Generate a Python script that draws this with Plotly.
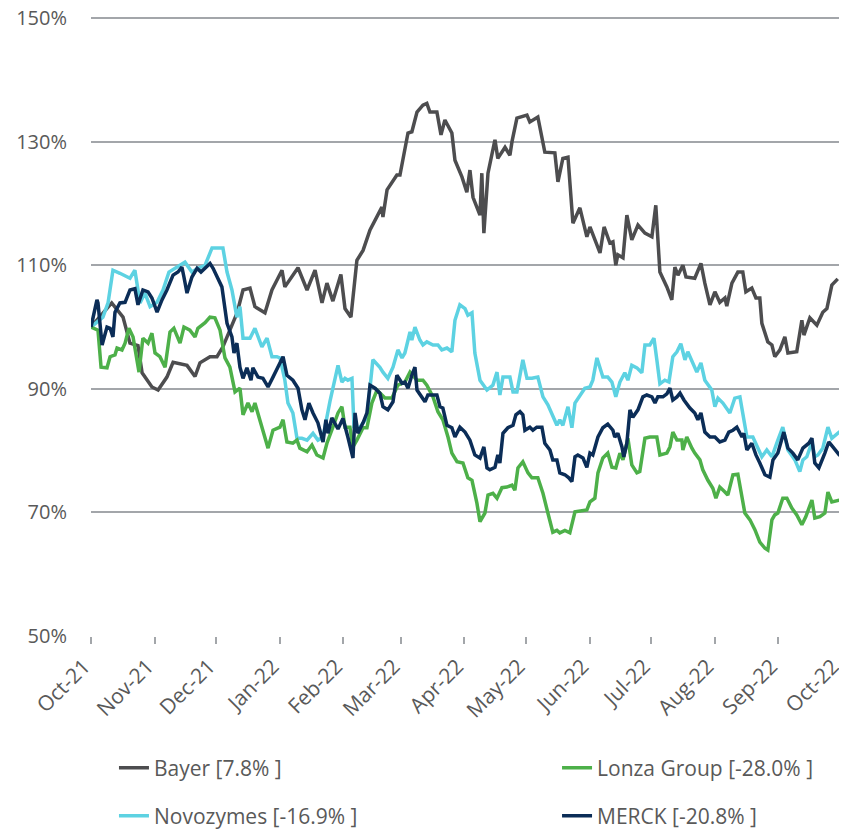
import pandas as pd
import plotly.graph_objects as go

START = "2021-10-01"

# ---- data: days since 2021-10-01 and indexed value (%) ----
bayer_days = [0, 10.1, 15.6, 19, 22.9, 24.9, 29.7, 32.7, 37, 40, 46.8, 50.7, 53.1, 58, 61.4, 64.3, 71.2, 74.1,
              77.5, 79.9, 84.8, 88.2, 93.1, 94.5, 100.9, 105.3, 109.2, 112.6, 115, 117.9, 121.8, 123.8, 126.7,
              129.6, 132.6, 136, 141.8, 142.3, 144.3, 149.1, 150.6, 154.5, 156.4, 158.9, 161.8, 163.7, 165.2,
              168.6, 170.6, 172.5, 175.9, 177.4, 180.8, 183.2, 184.7, 186.2, 189.6, 190.5, 191.5, 193.5, 196.9,
              198.3, 201.8, 204.2, 205.2, 207.6, 212.5, 213.9, 217.8, 221.2, 226.1, 227.6, 230, 232.5, 234.9,
              238.3, 241.7, 243.2, 248.1, 250.1, 252.9, 254.4, 255.8, 256.8, 259.3, 261.2, 263.6, 266.6, 270,
              273.4, 275.3, 277.3, 280.7, 283.1, 284.6, 286.1, 288.5, 290, 294.3, 297.3, 299.2, 301.7, 304.1,
              306.5, 309, 309.9, 312.4, 315.3, 317.7, 319.2, 322.1, 324.1, 326, 327, 329.9, 331.9, 333.3, 335.8,
              338.2, 339.7, 344, 346.5, 347.5, 350.4, 353.8, 356.7, 358.7, 361.1, 364]
bayer_vals = [100, 103.9, 101.6, 97.4, 97, 92.6, 90.3, 89.8, 91.9, 94.3, 93.8, 92, 94.2, 95.2, 95.2, 96.8, 102.3, 106,
              106.3, 103.3, 102.3, 106, 109.2, 106.5, 109.6, 106, 109.2, 103.9, 107.1, 104.2, 108.5, 103, 101.6,
              110.8, 112.4, 115.7, 119.4, 117.8, 122.2, 124.6, 124.6, 131.4, 131.6, 134.8, 135.9, 136.2, 134.8,
              134.8, 131.1, 133.5, 131.4, 127, 124.3, 121.8, 125.4, 121, 118.1, 124.9, 115.2, 124.9, 130.3,
              127.3, 129.1, 127.8, 130, 133.8, 134.3, 133.2, 134, 128.3, 128.2, 123.5, 127.3, 127.5, 116.8,
              119.3, 114.6, 116.2, 112, 116.2, 113.6, 113.8, 110, 111.7, 111.2, 118.1, 114.1, 116.5, 115.2,
              114.6, 119.7, 108.9, 106.5, 104.4, 109.7, 108.4, 110, 108.1, 107.9, 110.3, 107.1, 103.6, 105.7,
              104, 104.7, 103.4, 107.1, 108.9, 108.9, 105.7, 106.3, 104.7, 104.7, 100.6, 97.6, 97.1, 95.2, 96.3,
              98.4, 95.8, 96, 101.1, 98.7, 101.5, 100.3, 102.4, 103, 106.8, 107.8]

lonza_days = [0, 3.4, 4.9, 7.8, 9.3, 11.7, 12.7, 15.1, 16.6, 18.5, 20.5, 22.4, 23.4, 25.3, 27.8, 29.7, 31.2, 33.6,
              36.1, 38.5, 40.4, 43.4, 45.3, 48.2, 50.7, 52.1, 55.6, 58, 60.4, 62.9, 65.3, 67.7, 70.2, 72.6, 74.1,
              76.5, 78.5, 79.9, 83.3, 86.3, 88.7, 92.1, 93.6, 95.5, 98.4, 100.4, 101.8, 105.3, 107.7, 110.1,
              113.1, 115, 117.9, 120.4, 122.3, 123.8, 126.2, 127.7, 129.6, 132.6, 134.5, 136.9, 139.4, 143.3,
              146.7, 149.6, 153, 155.5, 158.9, 161.8, 163.7, 166.7, 169.1, 171.5, 174, 175.9, 178.4, 181.3,
              183.7, 185.7, 188.1, 189.6, 192, 193.5, 195.9, 197.9, 200.3, 202.7, 205.2, 206.6, 208.1, 210.5,
              213, 214.9, 217.8, 220.3, 222.7, 225.1, 227.1, 228.5, 231, 233.4, 235.9, 239.3, 241.7, 243.2,
              245.6, 247.1, 249.5, 251.9, 253.9, 255.8, 257.8, 259.3, 261.7, 263.6, 266.1, 267.5, 270, 272.4,
              275.8, 277.3, 280.7, 282.2, 283.6, 285.6, 288, 288.5, 290.4, 292.9, 294.3, 296.8, 298.2, 300.7,
              303.1, 304.6, 306.5, 309, 310.4, 312.9, 315.3, 317.3, 318.7, 321.2, 323.6, 326, 328.5, 329.9,
              331.9, 333.3, 334.8, 337.2, 339.2, 341.6, 344, 346.5, 348.4, 351.4, 352.8, 355.3, 357.7, 359.2,
              361.1, 365]
lonza_vals = [100, 99.5, 93.5, 93.4, 95.2, 95.5, 96.6, 96.3, 97.4, 99.8, 98.4, 94.2, 92.7, 98.2, 97.4, 99, 95.8, 95.2,
              93.5, 99.2, 99.8, 97.4, 100, 99.5, 98.4, 99.8, 100.7, 101.6, 101.5, 99.5, 95, 93.5, 89.5, 90.1, 85.8,
              87.7, 86.3, 87.7, 83.8, 80.4, 83.3, 83.8, 85, 81.4, 81.2, 81.7, 80.4, 79.8, 80.9, 79.3,
              78.8, 81.2, 83.8, 86.1, 87.1, 83.8, 83.8, 80.6, 81.7, 83.7, 83.7, 87.7, 89.8, 88.5,
              88.5, 90.6, 91.1, 92.7, 91.4, 91.4, 90.6, 88.7, 86.3, 85, 82.2, 79.6, 78.2, 78,
              75.6, 75.2, 71.5, 68.5, 69.9, 72.8, 73.1, 72.3, 74, 74.1, 74.4, 73.6, 77.2, 78.2,
              76.4, 75.6, 75.6, 73.1, 69.9, 66.8, 67.1, 66.7, 67.1, 66.7, 70.1, 70.2, 70.4, 71.7,
              72.3, 76.4, 78.8, 79.6, 77.3, 77.2, 79.6, 78.5, 82, 77.7, 76.4, 76.6, 82, 82.2,
              82.2, 79.3, 79.6, 80.6, 83, 81.7, 81.7, 80.1, 82.2, 80.4, 79.6, 78.5, 76.9, 75.2,
              73.9, 72.3, 74.1, 73.3, 72.8, 76.1, 76.2, 72.5, 69.9, 68.8, 67.2, 65.2, 64.2, 63.9,
              68.8, 69.6, 69.9, 72.3, 72.3, 70.7, 69.6, 68, 69.3, 72, 69.1, 69.3, 69.9, 73.3,
              71.7, 72]

novo_days = [0, 5.8, 8.3, 10.7, 14.1, 17.5, 19, 21.4, 23.9, 26.3, 28.8, 32.2, 35.1, 38, 41.9, 45.8, 49.2, 52.1,
             55.6, 59, 64.3, 66.3, 68.7, 71.1, 72.6, 74.1, 77.5, 79.9, 83.3, 85.8, 88.2, 90.6, 92.1, 94.5, 96,
             98.4, 100.4, 102.8, 105.3, 108.2, 110.6, 113.1, 116.5, 120.4, 122.3, 123.8, 125.2, 127.2, 128.2,
             130.1, 134.5, 136, 137.4, 140.8, 142.3, 144.7, 147.2, 149.6, 151.6, 153, 155.5, 156.4, 157.9,
             160.3, 161.8, 163.7, 166.7, 169.1, 171, 173.5, 175.9, 177.4, 179.8, 182.3, 183.7, 185.7, 187.1,
             189.6, 193, 195.9, 197.9, 199.3, 200.8, 204.2, 205.7, 207.6, 210.5, 212.5, 214.9, 217.8, 220.3,
             222.7, 225.1, 227.1, 228.5, 230, 232.5, 234.4, 235.9, 238.3, 240.7, 243.2, 244.6, 246.6, 248,
             249.5, 251.9, 253.9, 255.8, 257.8, 260.2, 261.7, 263.6, 266.1, 268.5, 270, 272.4, 274.4, 275.8,
             277.3, 279.7, 281.7, 283.6, 285.6, 287.5, 289.5, 290.9, 293.4, 295.3, 297.3, 299.2, 302.6, 304.1,
             305.6, 308, 311.4, 313.8, 316.3, 317.7, 319.7, 322.6, 325, 327, 329.4, 331.9, 334.8, 337.2,
             339.7, 343.1, 345.5, 347, 348.9, 351.4, 352.8, 354.3, 356.7, 359.2, 361.1, 365]
novo_vals = [100, 101.6, 103.9, 109.2, 108.7, 108.1, 107.9, 109.2, 103.9, 105.5, 103.3, 104, 106, 108.9, 109.7, 110.5,
             108.9, 109.5, 110, 112.8, 112.8, 108.9, 106, 101.6, 103.3, 98.2, 98.2, 99.8, 96.8, 98.2, 95.2, 95.2,
             95, 91.4, 87.7, 86.1, 82, 82, 81.7, 82.8, 81.7, 82.2, 88, 93.8, 91.1, 91.7, 91.4, 91.7, 83.8,
             83.3, 85.4, 89.8, 94.7, 93.5, 92.7, 91.7, 93.5, 96.3, 95, 95.8, 99.2, 97.9, 100,
             97.9, 97.1, 97.6, 97.1, 97.1, 96.3, 96.6, 96, 101.1, 103.6, 103, 101.9, 102.3, 95.8,
             91.4, 89.8, 90.6, 92.7, 89, 91.9, 91.9, 89.5, 89.5, 94.7, 91.7, 91.7, 91.9, 88.7,
             87.4, 85.4, 84.1, 85, 84.1, 87.1, 83.7, 87.7, 89, 90.1, 90.3, 91.4, 95, 93.5,
             91.9, 91.9, 91.1, 88.7, 91.1, 92.6, 91.4, 93.8, 93.4, 92.6, 97.1, 97.1, 98.2, 94.7,
             90.8, 91.4, 91.1, 95.2, 96, 97.3, 94.7, 96, 94.3, 92.7, 94.2, 91.4, 89.8, 87.1,
             88.5, 87.7, 86.1, 88.5, 88.7, 86.1, 82.2, 82.2, 80.6, 79, 80.1, 79, 81.7, 83.8,
             80.1, 78.5, 76.6, 78.5, 79, 81.4, 79, 79.3, 80.4, 83.8, 82, 83.1]

merck_days = [0, 2.9, 3.4, 5.4, 7.8, 9.3, 10.7, 11.7, 14.1, 16.6, 19, 21.4, 22.9, 25.3, 27.8, 29.7, 32.2, 34.6, 37,
              40, 42.4, 44.3, 45.3, 46.8, 49.2, 51.7, 53.6, 55.6, 58, 59.5, 61.9, 63.8, 66.3, 68.7, 69.7, 71.1,
              72.6, 74.1, 76, 78, 78.9, 81.4, 83.8, 86.3, 88.7, 91.1, 93.6, 95.5, 98.4, 100.9, 102.8, 104.3,
              106.2, 108.2, 110.6, 113.1, 114.5, 115.5, 117.4, 120.4, 122.8, 125.2, 127.7, 128.7, 130.1, 132.6,
              134.5, 136, 138.4, 140.8, 142.3, 144.7, 147.2, 149.1, 151.6, 153, 154.5, 156.4, 157.9, 158.9,
              161.3, 162.8, 164.2, 168.6, 170.1, 171.5, 173.5, 175.9, 177.4, 179.8, 182.3, 184.7, 187.1, 189.6,
              191.5, 193, 194.4, 196.9, 198.3, 199.3, 200.8, 203.2, 205.7, 207.1, 209.1, 210.5, 211.5, 213.9,
              215.4, 217.3, 219.8, 221.2, 223.7, 225.1, 227.1, 228.5, 231, 232.9, 234.4, 235.9, 237.3, 239.8,
              241.7, 243.2, 244.6, 247.1, 249.5, 251.9, 254.4, 255.3, 256.8, 258.8, 259.7, 261.2, 262.7, 264.1,
              266.6, 269, 270.9, 273.4, 274.9, 276.3, 278.8, 280.7, 282.2, 283.6, 285.6, 287.1, 289, 291.9,
              294.3, 295.8, 297.3, 299.2, 301.7, 304.1, 306.5, 309, 310.9, 312.9, 314.8, 317.3, 318.2, 319.7,
              322.1, 324.1, 326, 328.5, 330.9, 332.4, 334.8, 337.7, 339.7, 342.1, 344.5, 347, 349.9, 351.4,
              352.8, 354.8, 357.7, 359.6, 361.6, 365]
merck_vals = [100, 104.4, 103.9, 97.1, 100, 99.8, 98.4, 102.4, 103.9, 104, 106, 106.2, 103.6, 106, 105.7, 104.7, 102.4,
              104.4, 106, 108.4, 108.9, 109.7, 108.1, 105.5, 108.1, 109.5, 108.9, 109.5, 110.3, 109.5, 107.9, 106.5,
              100.6, 98.4, 95.8, 97.4, 93.5, 91.7, 93.4, 91.4, 93.4, 91.9, 91.7, 90.3, 91.9, 93.5, 95.2, 92.2,
              91.4, 90.1, 86.6, 85, 87.7, 86.1, 84.5, 81.4, 85, 82.8, 85.3, 83.5, 85.2, 82.2, 78.8, 86.1, 82.8,
              84.5, 86.1, 90.6, 90.1, 89.3, 87.1, 86.6, 87.9, 92.2, 90.9, 91.1, 90.1, 92.2, 93.5, 89.8,
              88.7, 87.9, 89, 89, 87.1, 86.9, 84.1, 83.7, 82.2, 83.8, 83, 81.7, 79.3, 78.8,
              80.6, 77.2, 76.9, 77.3, 79.3, 78, 82.8, 83.7, 84.1, 85.8, 86.3, 85.8, 83.3, 83.8,
              83.3, 83.8, 83.8, 81.2, 80.1, 78.5, 78.5, 76.4, 76.1, 75.6, 75, 79, 79.3, 78.8,
              77.3, 79.6, 79.3, 82.2, 83.7, 84.3, 83.3, 82.2, 82.8, 80.6, 79, 81.2, 86.6, 85.4,
              86.6, 88.7, 89, 88.7, 87.7, 88.7, 88.7, 89.2, 90.1, 88.2, 88.7, 89.3, 88.2, 86.9,
              86.1, 85, 86.1, 83, 82.2, 82.2, 81.4, 81.7, 83, 83.3, 83.8, 82.2, 82.8, 80.1,
              81.2, 79.3, 78, 76.1, 75.7, 78.5, 79.6, 83, 80.4, 79.6, 78.5, 80.4, 81.2, 82,
              78, 77.2, 79.6, 81.4, 80.6, 79.2]

series_names = ["Bayer [7.8% ]", "Lonza Group [-28.0% ]", "Novozymes [-16.9% ]", "MERCK [-20.8% ]"]
series_days = [bayer_days, lonza_days, novo_days, merck_days]
series_vals = [bayer_vals, lonza_vals, novo_vals, merck_vals]
series_colors = ["#4D4D4F", "#4DB049", "#5DD2E2", "#0B2D57"]

y_ticks = [50, 70, 90, 110, 130, 150]
y_tick_text = ["50%", "70%", "90%", "110%", "130%", "150%"]
month_ticks = pd.date_range(START, "2022-10-01", freq="MS")

start = pd.Timestamp(START)
legend_ids = ["legend", "legend2", "legend3", "legend4"]
fig = go.Figure()
# draw order: Bayer, Novozymes, Lonza, MERCK (MERCK on top)
for i in [0, 2, 1, 3]:
    dates = start + pd.to_timedelta(series_days[i], unit="D")
    fig.add_trace(go.Scatter(
        x=dates, y=series_vals[i], mode="lines", name=series_names[i],
        line=dict(color=series_colors[i], width=3.5),
        legend=legend_ids[i],
    ))

FONT = "'Open Sans', Lato, sans-serif"
TXT = "#595959"
# legend placement (container coords)
leg_x = [0.1263, 0.6544, 0.1263, 0.6544]
leg_y = [0.0754, 0.0754, 0.0170, 0.0170]
leg_layout = {}
for lid, lx, ly in zip(legend_ids, leg_x, leg_y):
    leg_layout[lid] = dict(orientation="h", x=lx, xanchor="left", y=ly, yanchor="middle",
                           xref="container", yref="container",
                           font=dict(family=FONT, size=21, color=TXT),
                           bgcolor="rgba(0,0,0,0)", borderwidth=0)

# the page body has an 8px margin, so the figure is sized to fit the window
fig.update_layout(
    width=839, height=822,
    margin=dict(l=83, r=7, t=7, b=194),
    plot_bgcolor="white", paper_bgcolor="white",
    font=dict(family=FONT, size=21, color=TXT),
    showlegend=True,
    **leg_layout,
)
fig.update_xaxes(
    type="date", range=[START, "2022-10-01 02:00"],
    tickvals=month_ticks, tickformat="%b-%y", tickangle=-45,
    ticks="outside", ticklen=7, tickcolor="#A3A6AA", tickwidth=1.5,
    showgrid=False, showline=False, zeroline=False, automargin=False,
    ticklabeloverflow="allow", ticklabelshift=-7, ticklabelstandoff=2,
    tickfont=dict(family=FONT, size=21, color=TXT),
)
fig.update_yaxes(
    range=[50, 150.5], tickvals=y_ticks, ticktext=y_tick_text,
    showgrid=True, gridcolor="#A3A6AA", gridwidth=1.5,
    zeroline=False, showline=False, ticks="", automargin=False,
    ticklabeloverflow="allow",
    tickfont=dict(family=FONT, size=20, color=TXT), ticklabelstandoff=23,
)
fig.write_html("out.html")
